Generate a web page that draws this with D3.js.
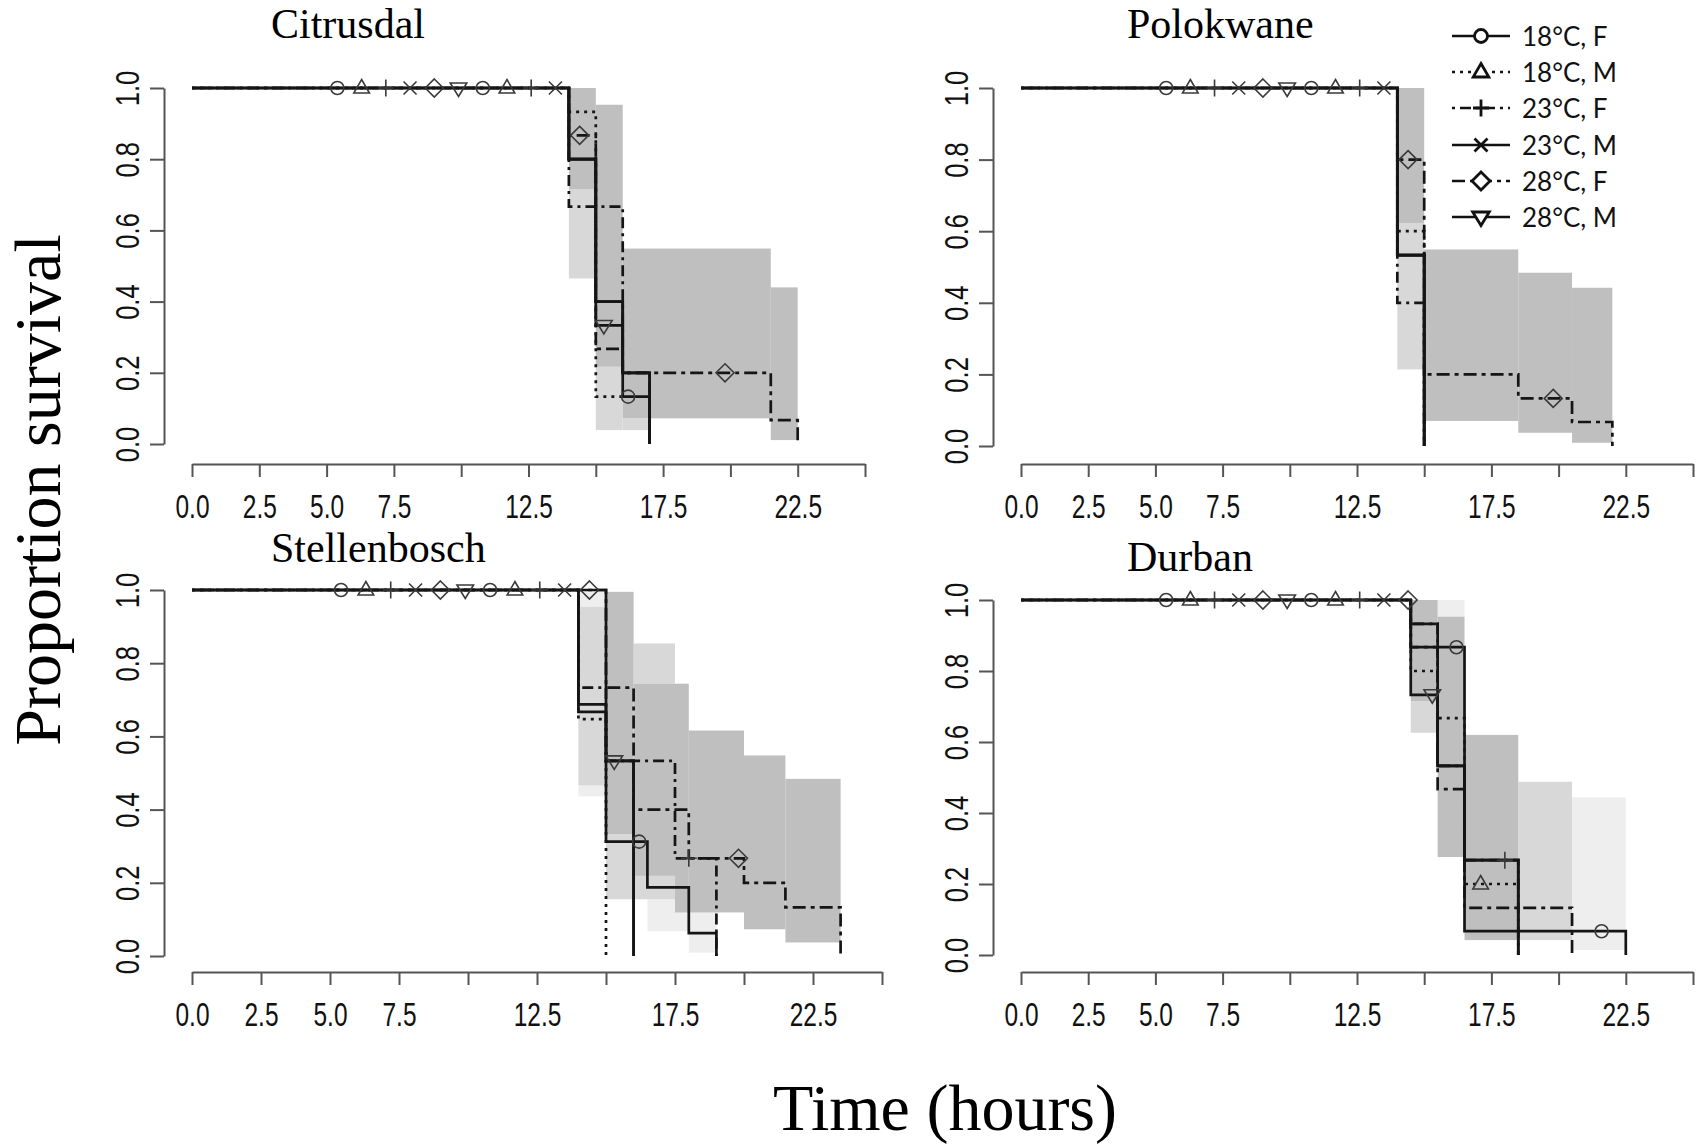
<!DOCTYPE html>
<html lang="en">
<head>
<meta charset="UTF-8" />
<title>Proportion survival by site</title>
<script src="https://d3js.org/d3.v7.min.js"></script>
<style>
  body { margin: 0; background: #fff; }
  svg { display: block; }
  .title { font-family: "Liberation Serif", "Times New Roman", serif; font-size: 42px; fill: #000; }
  .axis-title { font-family: "Liberation Serif", "Times New Roman", serif; font-size: 66px; fill: #000; }
  .legend text { font-family: Lato, "Open Sans", sans-serif; font-size: 26px; fill: #111; }
</style>
</head>
<body>
<svg id="chart" width="1699" height="1144"></svg>
<script>
const groups = ["18°C, F", "18°C, M", "23°C, F", "23°C, M", "28°C, F", "28°C, M"];
const xTicks = [0, 2.5, 5, 7.5, 10, 12.5, 15, 17.5, 20, 22.5, 25];
const xLabels = [0, 2.5, 5, 7.5, 12.5, 17.5, 22.5];
const yTicks = [0, 0.2, 0.4, 0.6, 0.8, 1];

// marks along the 1.0 line, same in every panel: time (h), group index
const topMarkTimes = [5.4, 6.3, 7.2, 8.1, 9.0, 9.9, 10.8, 11.7, 12.6, 13.5];
const topMarkGroups = [0, 1, 2, 3, 4, 5, 0, 1, 2, 3];

// survival steps: event times (h), survival after each event, last follow-up
const citrusdalCurves = [
  { t: [14, 15, 16, 17], s: [0.8, 0.4, 0.133, 0], end: 17 },
  { t: [14, 15], s: [0.933, 0.133], end: 16 },
  { t: [14, 16, 17], s: [0.667, 0.2, 0], end: 17 },
  { t: [14, 15, 16, 17], s: [0.8, 0.4, 0.2, 0], end: 17 },
  { t: [14, 15, 16, 21.5, 22.5], s: [0.867, 0.267, 0.2, 0.067, 0], end: 22.5 },
  { t: [14, 15, 16, 17], s: [0.8, 0.333, 0.2, 0], end: 17 }
];
const polokwaneCurves = [
  { t: [14, 15], s: [0.533, 0], end: 15 },
  { t: [14, 15], s: [0.6, 0], end: 15 },
  { t: [14, 15], s: [0.4, 0], end: 15 },
  { t: [14, 15], s: [0.533, 0], end: 15 },
  { t: [14, 15, 18.5, 20.5, 22], s: [0.8, 0.2, 0.133, 0.067, 0], end: 22 },
  { t: [14, 15], s: [0.533, 0], end: 15 }
];
const stellenboschCurves = [
  { t: [14, 15, 16.5, 18, 19], s: [0.6875, 0.3125, 0.1875, 0.0625, 0], end: 19 },
  { t: [14, 15], s: [0.647, 0], end: 15 },
  { t: [14, 15, 17.5, 19], s: [0.733, 0.533, 0.267, 0], end: 19 },
  { t: [14, 15, 16], s: [0.667, 0.533, 0], end: 16 },
  { t: [15, 16, 18, 20, 21.5, 23.5], s: [0.733, 0.4, 0.267, 0.2, 0.133, 0], end: 23.5 },
  { t: [15, 16], s: [0.533, 0], end: 16 }
];
const durbanCurves = [
  { t: [14.5, 16.5, 22.5], s: [0.867, 0.067, 0], end: 22.5 },
  { t: [14.5, 15.5, 16.5], s: [0.8, 0.667, 0.2], end: 18.5 },
  { t: [14.5, 15.5, 16.5, 18.5], s: [0.933, 0.533, 0.267, 0], end: 18.5 },
  { t: [14.5, 15.5, 16.5, 18.5], s: [0.933, 0.533, 0.267, 0], end: 18.5 },
  { t: [14.5, 15.5, 16.5, 20.5], s: [0.867, 0.467, 0.133, 0], end: 20.5 },
  { t: [14.5, 15.5, 16.5, 18.5], s: [0.733, 0.533, 0.267, 0], end: 18.5 }
];

// other marks: group index, time (h), survival
const citrusdalMarks = [[4, 14.4, 0.867], [5, 15.3, 0.333], [0, 16.2, 0.133], [4, 19.8, 0.2]];
const polokwaneMarks = [[4, 14.4, 0.8], [4, 19.8, 0.133]];
const stellenboschMarks = [[4, 14.4, 1], [5, 15.3, 0.533], [0, 16.2, 0.3125], [2, 18.0, 0.267], [4, 19.8, 0.267]];
const durbanMarks = [[4, 14.4, 1], [5, 15.3, 0.733], [0, 16.2, 0.867], [1, 17.1, 0.2], [2, 18.0, 0.267], [0, 21.6, 0.067]];

// confidence shading: from (h), to (h), lower, upper
const citrusdalDark = [[14, 15, 0.715, 1.0], [15, 16, 0.217, 0.953], [16, 21.5, 0.072, 0.549], [21.5, 22.5, 0.011, 0.44]];
const citrusdalLight = [[14, 15, 0.465, 0.715], [15, 16, 0.039, 0.217], [16, 17, 0.039, 0.072]];
const citrusdalPale = [];
const polokwaneDark = [[14, 15, 0.623, 1.0], [15, 18.5, 0.07, 0.549], [18.5, 20.5, 0.037, 0.484], [20.5, 22, 0.009, 0.442]];
const polokwaneLight = [[14, 15, 0.214, 0.623]];
const polokwanePale = [];
const stellenboschDark = [[15, 16, 0.333, 0.995], [16, 17.5, 0.219, 0.744], [17.5, 18, 0.119, 0.744], [18, 20, 0.119, 0.616], [20, 21.5, 0.073, 0.548], [21.5, 23.5, 0.037, 0.484]];
const stellenboschLight = [[14, 15, 0.466, 0.954], [15, 16, 0.155, 0.333], [16, 17.5, 0.744, 0.854], [16, 17.5, 0.155, 0.219]];
const stellenboschPale = [[14, 15, 0.954, 1.0], [14, 15, 0.436, 0.466], [16.5, 18, 0.068, 0.155], [18, 19, 0.009, 0.119]];
const durbanDark = [[14.5, 15.5, 0.715, 1.0], [15.5, 16.5, 0.276, 0.953], [16.5, 18.5, 0.042, 0.62]];
const durbanLight = [[14.5, 15.5, 0.626, 0.715], [18.5, 20.5, 0.042, 0.488]];
const durbanPale = [[15.5, 16.5, 0.953, 1.0], [20.5, 22.5, 0.014, 0.444]];

const panels = [
  { name: "Citrusdal", curves: citrusdalCurves, marks: citrusdalMarks, dark: citrusdalDark, light: citrusdalLight, pale: citrusdalPale,
    xr: [192, 865], yr: [444, 88], axisX: 164, axisY: 464, titleX: 271, titleY: 38 },
  { name: "Polokwane", curves: polokwaneCurves, marks: polokwaneMarks, dark: polokwaneDark, light: polokwaneLight, pale: polokwanePale,
    xr: [1021, 1693], yr: [446, 88], axisX: 993, axisY: 464, titleX: 1127, titleY: 38 },
  { name: "Stellenbosch", curves: stellenboschCurves, marks: stellenboschMarks, dark: stellenboschDark, light: stellenboschLight, pale: stellenboschPale,
    xr: [192, 882], yr: [956, 590], axisX: 164, axisY: 972, titleX: 271, titleY: 562 },
  { name: "Durban", curves: durbanCurves, marks: durbanMarks, dark: durbanDark, light: durbanLight, pale: durbanPale,
    xr: [1021, 1693], yr: [955, 600], axisX: 993, axisY: 972, titleX: 1127, titleY: 571 }
];

const dashes = [null, "3,5", "3,5,11,5", null, "13,5,4,5", null];
const shades = [["pale", "#eeeeee"], ["light", "#d8d8d8"], ["dark", "#bfbfbf"]];

function markPath(k) {
  switch (k) {
    case 0: return "M6.5,0A6.5,6.5 0 1,1 -6.5,0A6.5,6.5 0 1,1 6.5,0Z";
    case 1: return "M0,-8.5L7.8,5L-7.8,5Z";
    case 2: return "M-8,0H8M0,-8.5V8.5";
    case 3: return "M-6.5,-6.5L6.5,6.5M-6.5,6.5L6.5,-6.5";
    case 4: return "M0,-9L9,0L0,9L-9,0Z";
    default: return "M0,8.5L8.3,-5L-8.3,-5Z";
  }
}

const svg = d3.select("#chart");

panels.forEach(p => {
  const x = d3.scaleLinear().domain([0, 25]).range(p.xr);
  const y = d3.scaleLinear().domain([0, 1]).range(p.yr);
  const g = svg.append("g");

  shades.forEach(([key, fill]) => {
    g.append("g").selectAll("rect")
      .data(p[key])
      .join("rect")
      .attr("x", d => x(d[0]))
      .attr("width", d => x(d[1]) - x(d[0]))
      .attr("y", d => y(d[3]))
      .attr("height", d => y(d[2]) - y(d[3]))
      .attr("fill", fill);
  });

  const line = d3.line()
    .x(d => x(d[0]))
    .y(d => y(d[1]))
    .curve(d3.curveStepAfter);

  p.curves.forEach((c, i) => {
    const pts = [[0, 1]].concat(c.t.map((t, j) => [t, c.s[j]]));
    if (c.end > c.t[c.t.length - 1]) pts.push([c.end, c.s[c.s.length - 1]]);
    g.append("path")
      .attr("d", line(pts))
      .attr("fill", "none")
      .attr("stroke", "#151515")
      .attr("stroke-width", 2.7)
      .attr("stroke-dasharray", dashes[i]);
  });

  const marks = topMarkTimes.map((t, i) => [topMarkGroups[i], t, 1]).concat(p.marks);
  g.append("g").selectAll("path")
    .data(marks)
    .join("path")
    .attr("transform", d => `translate(${x(d[1])},${y(d[2])})`)
    .attr("d", d => markPath(d[0]))
    .attr("fill", "none")
    .attr("stroke", "#3a3a3a")
    .attr("stroke-width", 1.6);

  // axes
  const xa = g.append("g")
    .attr("transform", `translate(0,${p.axisY})`)
    .call(d3.axisBottom(x).tickValues(xTicks).tickSize(13).tickSizeOuter(0)
      .tickFormat(d => xLabels.includes(d) ? d3.format(".1f")(d) : ""));
  xa.selectAll("text")
    .attr("y", null).attr("dy", null)
    .attr("transform", "translate(0,42) scale(0.72,1)")
    .attr("dominant-baseline", "central");

  const ya = g.append("g")
    .attr("transform", `translate(${p.axisX},0)`)
    .call(d3.axisLeft(y).tickValues(yTicks).tickSize(14).tickSizeOuter(0).tickFormat(d3.format(".1f")));
  ya.selectAll("text")
    .attr("x", null).attr("dy", null)
    .attr("text-anchor", "middle")
    .attr("transform", "translate(-37,0) rotate(-90) scale(0.75,1)")
    .attr("dominant-baseline", "central");

  [xa, ya].forEach(a => {
    a.attr("font-family", '"Liberation Sans", Arial, sans-serif').attr("font-size", 34);
    a.selectAll("path, line").attr("stroke", "#555").attr("stroke-width", 2);
    a.selectAll("text").attr("fill", "#111");
  });

  svg.append("text")
    .attr("class", "title")
    .attr("x", p.titleX)
    .attr("y", p.titleY)
    .text(p.name);
});

// legend
const legendRows = [36, 72, 108, 145, 181, 217];
const legend = svg.append("g").attr("class", "legend");
groups.forEach((name, i) => {
  const row = legend.append("g").attr("transform", `translate(0,${legendRows[i]})`);
  row.append("line")
    .attr("x1", 1452).attr("x2", 1510)
    .attr("stroke", "#111").attr("stroke-width", 2.6)
    .attr("stroke-dasharray", dashes[i]);
  row.append("path")
    .attr("transform", "translate(1481,0)")
    .attr("d", markPath(i))
    .attr("fill", i === 0 || i === 1 || i === 4 || i === 5 ? "#fff" : "none")
    .attr("stroke", "#111")
    .attr("stroke-width", 2.8);
  row.append("text")
    .attr("x", 1522)
    .attr("dominant-baseline", "central")
    .text(name);
});

svg.append("text")
  .attr("class", "axis-title")
  .attr("transform", "translate(60,490) rotate(-90)")
  .attr("text-anchor", "middle")
  .text("Proportion survival");

svg.append("text")
  .attr("class", "axis-title")
  .attr("x", 945)
  .attr("y", 1130)
  .attr("text-anchor", "middle")
  .attr("font-size", 64)
  .text("Time (hours)");
</script>
</body>
</html>
